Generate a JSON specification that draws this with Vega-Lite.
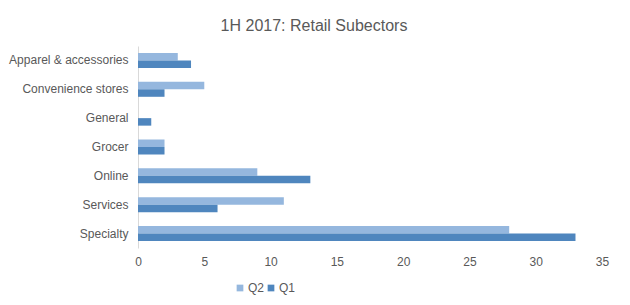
{
  "$schema": "https://vega.github.io/schema/vega-lite/v6.json",
  "width": 464,
  "height": 202,
  "autosize": {"type": "none"},
  "padding": {"left": 138, "top": 46, "right": 28, "bottom": 57},
  "background": "white",
  "config": {
    "view": {"stroke": null},
    "font": "Liberation Sans",
    "axis": {"labelFont": "Liberation Sans", "labelFontSize": 12, "labelColor": "#595959", "grid": false, "ticks": false, "title": null, "labelFlush": false},
    "legend": {"labelFont": "Liberation Sans", "labelFontSize": 12, "labelColor": "#595959"}
  },
  "title": {"text": "1H 2017: Retail Subectors", "fontSize": 16, "font": "Liberation Sans", "fontWeight": "normal", "color": "#595959", "anchor": "middle", "dx": -56, "offset": 12},
  "data": {"values": [
    {"cat": "Apparel & accessories", "q": "Q2", "v": 3},
    {"cat": "Apparel & accessories", "q": "Q1", "v": 4},
    {"cat": "Convenience stores", "q": "Q2", "v": 5},
    {"cat": "Convenience stores", "q": "Q1", "v": 2},
    {"cat": "General", "q": "Q2", "v": 0},
    {"cat": "General", "q": "Q1", "v": 1},
    {"cat": "Grocer", "q": "Q2", "v": 2},
    {"cat": "Grocer", "q": "Q1", "v": 2},
    {"cat": "Online", "q": "Q2", "v": 9},
    {"cat": "Online", "q": "Q1", "v": 13},
    {"cat": "Services", "q": "Q2", "v": 11},
    {"cat": "Services", "q": "Q1", "v": 6},
    {"cat": "Specialty", "q": "Q2", "v": 28},
    {"cat": "Specialty", "q": "Q1", "v": 33}
  ]},
  "mark": {"type": "bar"},
  "encoding": {
    "y": {"field": "cat", "type": "nominal", "sort": null,
      "scale": {"paddingInner": 0.48, "paddingOuter": 0.24},
      "axis": {"domainColor": "#d9d9d9", "labelPadding": 10}},
    "yOffset": {"field": "q", "type": "nominal", "sort": ["Q2", "Q1"]},
    "x": {"field": "v", "type": "quantitative",
      "scale": {"domain": [0, 35], "nice": false},
      "axis": {"values": [0, 5, 10, 15, 20, 25, 30, 35], "domain": false, "labelPadding": 8}},
    "color": {"field": "q", "type": "nominal", "sort": ["Q2", "Q1"],
      "scale": {"domain": ["Q2", "Q1"], "range": ["#95b7de", "#4f86be"]},
      "legend": {"title": null, "orient": "none", "direction": "horizontal", "legendX": 96, "legendY": 236,
        "symbolType": "square", "symbolSize": 45, "symbolStrokeWidth": 0, "columnPadding": 0, "labelOffset": 2}}
  }
}
